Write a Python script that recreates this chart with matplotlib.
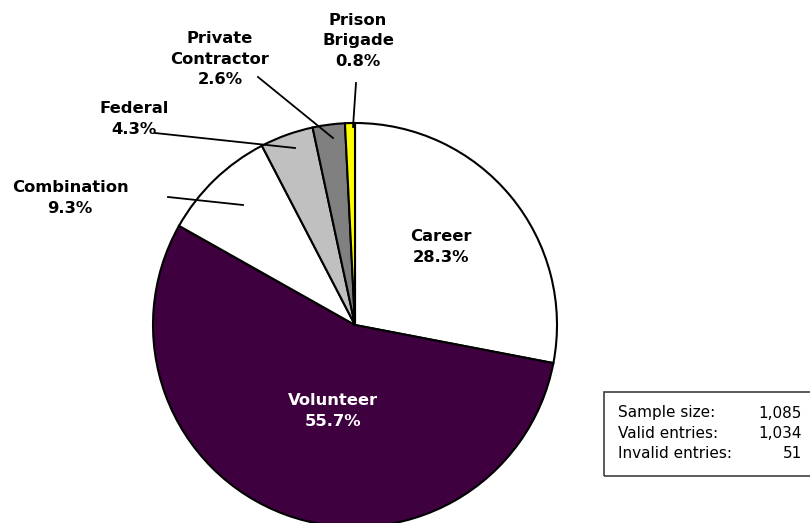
import matplotlib.pyplot as plt
from matplotlib.patches import Rectangle

# data
categories = ['Career', 'Volunteer', 'Combination', 'Federal', 'Private\nContractor', 'Prison\nBrigade']
shares = [28.3, 55.7, 9.3, 4.3, 2.6, 0.8]
colors = ['#FFFFFF', '#3F0040', '#FFFFFF', '#C0C0C0', '#808080', '#FFFF00']
stat_names = ['Sample size:', 'Valid entries:', 'Invalid entries:']
stat_values = ['1,085', '1,034', '51']

H = 523
fig = plt.figure(figsize=(8.10, 5.23), dpi=100)
ax = fig.add_axes([0, 0, 1, 1])

cx, cy, r = 355, H - 325, 202
ax.pie(shares, colors=colors, startangle=90, counterclock=False,
       center=(cx, cy), radius=r, frame=True,
       wedgeprops=dict(edgecolor='black', linewidth=1.5))
ax.set_xlim(0, 810)
ax.set_ylim(0, H)
ax.set_aspect('equal')
ax.axis('off')

def lab(i, x, y, color='black'):
    ax.text(x, H - y, f'{categories[i]}\n{shares[i]}%', ha='center', va='center',
            fontsize=11.8, fontweight='bold', color=color, linespacing=1.45)

lab(0, 441, 247)
lab(1, 333, 411, color='white')
lab(2, 70, 198)
lab(3, 134, 119)
lab(4, 220, 59)
lab(5, 358, 41)

# leader lines
for (x1, y1, x2, y2) in [(168, 197, 243, 205), (155, 133, 295, 148),
                         (258, 77, 333, 138), (356, 83, 353, 127)]:
    ax.plot([x1, x2], [H - y1, H - y2], color='black', lw=1.3)

# stats box
ax.add_patch(Rectangle((604, H - 476), 210, 84, fill=False, edgecolor='#404040', lw=1.2))
for k in range(3):
    yy = H - (413 + k * 20)
    ax.text(618, yy, stat_names[k], ha='left', va='center', fontsize=11)
    ax.text(802, yy, stat_values[k], ha='right', va='center', fontsize=11)

fig.savefig('out.png', dpi=100)
